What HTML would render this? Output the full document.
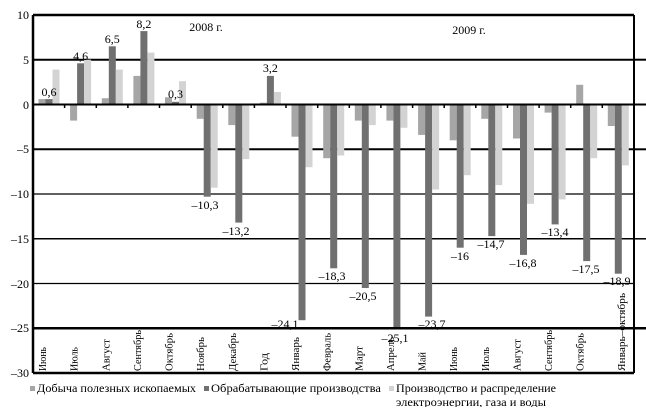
<!DOCTYPE html>
<html><head><meta charset="utf-8"><style>
body{margin:0;background:#fff}
svg, svg text{font-family:"Liberation Serif","DejaVu Serif","Noto Serif CJK SC",serif}
</style></head><body>
<svg width="646" height="407" viewBox="0 0 646 407" xmlns="http://www.w3.org/2000/svg">
<g font-size="12" fill="#000">
<g text-anchor="end">
<text x="29" y="19">10</text><text x="29" y="64">5</text><text x="29" y="109">0</text>
<text x="29" y="153">–5</text><text x="29" y="198">–10</text><text x="29" y="243">–15</text>
<text x="29" y="288">–20</text><text x="29" y="332">–25</text><text x="29" y="377">–30</text>
</g>
</g>
<g stroke="#000">
<line x1="33" y1="59.7" x2="634" y2="59.7" stroke-width="2"/>
<line x1="33" y1="149.3" x2="634" y2="149.3" stroke-width="2"/>
<line x1="33" y1="194" x2="634" y2="194" stroke-width="1.3"/>
<line x1="33" y1="238.8" x2="634" y2="238.8" stroke-width="1.5"/>
<line x1="33" y1="283.5" x2="634" y2="283.5" stroke-width="1.3"/>
</g>
<g>
<g fill="#a6a6a6">
<rect x="38.5" y="99.1" width="7" height="5.4"/>
<rect x="70.1" y="104.5" width="7" height="16.1"/>
<rect x="101.8" y="98.2" width="7" height="6.3"/>
<rect x="133.4" y="75.9" width="7" height="28.6"/>
<rect x="165" y="97.3" width="7" height="7.2"/>
<rect x="196.7" y="104.5" width="7" height="14.3"/>
<rect x="228.3" y="104.5" width="7" height="20.6"/>
<rect x="259.9" y="102.7" width="7" height="1.8"/>
<rect x="291.5" y="104.5" width="7" height="32.2"/>
<rect x="323.2" y="104.5" width="7" height="53.7"/>
<rect x="354.8" y="104.5" width="7" height="16.1"/>
<rect x="386.4" y="104.5" width="7" height="16.1"/>
<rect x="418.1" y="104.5" width="7" height="30.4"/>
<rect x="449.7" y="104.5" width="7" height="35.8"/>
<rect x="481.3" y="104.5" width="7" height="14.3"/>
<rect x="513" y="104.5" width="7" height="34"/>
<rect x="544.6" y="104.5" width="7" height="8.1"/>
<rect x="576.2" y="84.8" width="7" height="19.7"/>
<rect x="607.8" y="104.5" width="7" height="21.5"/>
</g>
<g fill="#707070">
<rect x="45.5" y="99.1" width="7" height="5.4"/>
<rect x="77.1" y="63.3" width="7" height="41.2"/>
<rect x="108.8" y="46.3" width="7" height="58.2"/>
<rect x="140.4" y="31.1" width="7" height="73.4"/>
<rect x="172" y="101.8" width="7" height="2.7"/>
<rect x="203.7" y="104.5" width="7" height="92.2"/>
<rect x="235.3" y="104.5" width="7" height="118.1"/>
<rect x="266.9" y="75.9" width="7" height="28.6"/>
<rect x="298.5" y="104.5" width="7" height="215.7"/>
<rect x="330.2" y="104.5" width="7" height="163.8"/>
<rect x="361.8" y="104.5" width="7" height="183.5"/>
<rect x="393.4" y="104.5" width="7" height="224.6"/>
<rect x="425.1" y="104.5" width="7" height="212.1"/>
<rect x="456.7" y="104.5" width="7" height="143.2"/>
<rect x="488.3" y="104.5" width="7" height="131.6"/>
<rect x="520" y="104.5" width="7" height="150.4"/>
<rect x="551.6" y="104.5" width="7" height="119.9"/>
<rect x="583.2" y="104.5" width="7" height="156.6"/>
<rect x="614.8" y="104.5" width="7" height="169.2"/>
</g>
<g fill="#d3d3d3">
<rect x="52.5" y="69.6" width="7" height="34.9"/>
<rect x="84.1" y="59.7" width="7" height="44.8"/>
<rect x="115.8" y="69.6" width="7" height="34.9"/>
<rect x="147.4" y="52.6" width="7" height="51.9"/>
<rect x="179" y="81.2" width="7" height="23.3"/>
<rect x="210.7" y="104.5" width="7" height="83.2"/>
<rect x="242.3" y="104.5" width="7" height="54.6"/>
<rect x="273.9" y="92" width="7" height="12.5"/>
<rect x="305.5" y="104.5" width="7" height="62.7"/>
<rect x="337.2" y="104.5" width="7" height="51"/>
<rect x="368.8" y="104.5" width="7" height="20.6"/>
<rect x="400.4" y="104.5" width="7" height="23.3"/>
<rect x="432.1" y="104.5" width="7" height="85"/>
<rect x="463.7" y="104.5" width="7" height="70.7"/>
<rect x="495.3" y="104.5" width="7" height="80.6"/>
<rect x="527" y="104.5" width="7" height="99.3"/>
<rect x="558.6" y="104.5" width="7" height="94.9"/>
<rect x="590.2" y="104.5" width="7" height="53.7"/>
<rect x="621.8" y="104.5" width="7" height="60.9"/>
</g>
</g>
<g stroke="#000">
<line x1="33" y1="104.5" x2="634" y2="104.5" stroke-width="2"/>
<line x1="33" y1="328.3" x2="646" y2="328.3" stroke-width="2.5"/>
<line x1="33" y1="15" x2="634" y2="15" stroke-width="2.5"/>
<line x1="33" y1="373" x2="634" y2="373" stroke-width="2.5"/>
<line x1="33" y1="15" x2="33" y2="373" stroke-width="2.5"/>
<line x1="634" y1="15" x2="634" y2="373" stroke-width="2"/>
<line x1="634" y1="59.7" x2="646" y2="59.7" stroke-width="2"/>
<line x1="634" y1="149.3" x2="646" y2="149.3" stroke-width="2"/>
<line x1="634" y1="238.8" x2="646" y2="238.8" stroke-width="1.5"/>
<line x1="634" y1="104.5" x2="646" y2="104.5" stroke-width="2"/>
<g stroke-width="1.5">
<line x1="64.6" y1="104.5" x2="64.6" y2="108"/><line x1="96.3" y1="104.5" x2="96.3" y2="108"/>
<line x1="127.9" y1="104.5" x2="127.9" y2="108"/><line x1="159.5" y1="104.5" x2="159.5" y2="108"/>
<line x1="191.2" y1="104.5" x2="191.2" y2="108"/><line x1="222.8" y1="104.5" x2="222.8" y2="108"/>
<line x1="254.4" y1="104.5" x2="254.4" y2="108"/><line x1="286" y1="104.5" x2="286" y2="108"/>
<line x1="317.7" y1="104.5" x2="317.7" y2="108"/><line x1="349.3" y1="104.5" x2="349.3" y2="108"/>
<line x1="380.9" y1="104.5" x2="380.9" y2="108"/><line x1="412.6" y1="104.5" x2="412.6" y2="108"/>
<line x1="444.2" y1="104.5" x2="444.2" y2="108"/><line x1="475.8" y1="104.5" x2="475.8" y2="108"/>
<line x1="507.5" y1="104.5" x2="507.5" y2="108"/><line x1="539.1" y1="104.5" x2="539.1" y2="108"/>
<line x1="570.7" y1="104.5" x2="570.7" y2="108"/><line x1="602.3" y1="104.5" x2="602.3" y2="108"/>
</g>
</g>
<g font-size="12" text-anchor="middle">
<text x="49" y="96">0,6</text>
<text x="80.6" y="60">4,6</text>
<text x="112.3" y="43">6,5</text>
<text x="143.9" y="28">8,2</text>
<text x="175.5" y="98">0,3</text>
<text x="270.4" y="72">3,2</text>
<text x="205" y="209">–10,3</text>
<text x="236" y="235">–13,2</text>
<text x="285" y="328">–24,1</text>
<text x="332" y="280">–18,3</text>
<text x="363" y="300">–20,5</text>
<text x="395" y="342">–25,1</text>
<text x="432" y="328">–23,7</text>
<text x="460" y="260">–16</text>
<text x="491" y="248">–14,7</text>
<text x="523" y="267">–16,8</text>
<text x="555" y="236">–13,4</text>
<text x="586" y="273">–17,5</text>
<text x="617" y="285">–18,9</text>
<text x="206" y="31">2008 г.</text>
<text x="469" y="34">2009 г.</text>
</g>
<g font-size="11">
<text transform="translate(46,371) rotate(-90)" textLength="24" lengthAdjust="spacingAndGlyphs">Июнь</text>
<text transform="translate(77.6,371) rotate(-90)" textLength="24" lengthAdjust="spacingAndGlyphs">Июль</text>
<text transform="translate(109.3,371) rotate(-90)" textLength="32" lengthAdjust="spacingAndGlyphs">Август</text>
<text transform="translate(140.9,371) rotate(-90)" textLength="41" lengthAdjust="spacingAndGlyphs">Сентябрь</text>
<text transform="translate(172.5,371) rotate(-90)" textLength="38" lengthAdjust="spacingAndGlyphs">Октябрь</text>
<text transform="translate(204.2,371) rotate(-90)" textLength="34" lengthAdjust="spacingAndGlyphs">Ноябрь</text>
<text transform="translate(235.8,371) rotate(-90)" textLength="38" lengthAdjust="spacingAndGlyphs">Декабрь</text>
<text transform="translate(267.4,371) rotate(-90)" textLength="18" lengthAdjust="spacingAndGlyphs">Год</text>
<text transform="translate(299,371) rotate(-90)" textLength="34" lengthAdjust="spacingAndGlyphs">Январь</text>
<text transform="translate(330.7,371) rotate(-90)" textLength="38" lengthAdjust="spacingAndGlyphs">Февраль</text>
<text transform="translate(362.3,371) rotate(-90)" textLength="25" lengthAdjust="spacingAndGlyphs">Март</text>
<text transform="translate(393.9,371) rotate(-90)" textLength="34" lengthAdjust="spacingAndGlyphs">Апрель</text>
<text transform="translate(425.6,371) rotate(-90)" textLength="19" lengthAdjust="spacingAndGlyphs">Май</text>
<text transform="translate(457.2,371) rotate(-90)" textLength="24" lengthAdjust="spacingAndGlyphs">Июнь</text>
<text transform="translate(488.8,371) rotate(-90)" textLength="24" lengthAdjust="spacingAndGlyphs">Июль</text>
<text transform="translate(520.5,371) rotate(-90)" textLength="32" lengthAdjust="spacingAndGlyphs">Август</text>
<text transform="translate(552.1,371) rotate(-90)" textLength="41" lengthAdjust="spacingAndGlyphs">Сентябрь</text>
<text transform="translate(583.7,371) rotate(-90)" textLength="38" lengthAdjust="spacingAndGlyphs">Октябрь</text>
<text transform="translate(625,371) rotate(-90)" textLength="78" lengthAdjust="spacingAndGlyphs">Январь–октябрь</text>
</g>
<g font-size="12">
<rect x="30" y="386" width="5" height="5" fill="#a6a6a6"/>
<text x="37" y="392" textLength="159" lengthAdjust="spacingAndGlyphs">Добыча полезных ископаемых</text>
<rect x="204" y="386" width="5" height="5" fill="#707070"/>
<text x="211" y="392" textLength="170" lengthAdjust="spacingAndGlyphs">Обрабатывающие производства</text>
<rect x="389" y="386" width="5" height="5" fill="#d3d3d3"/>
<text x="396" y="392" textLength="160" lengthAdjust="spacingAndGlyphs">Производство и распределение</text>
<text x="396" y="406" textLength="150" lengthAdjust="spacingAndGlyphs">электроэнергии, газа и воды</text>
</g>
</svg>
</body></html>
